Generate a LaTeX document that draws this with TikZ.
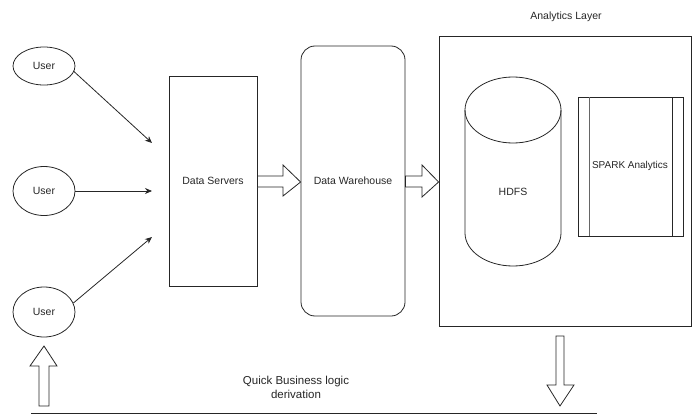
\documentclass[tikz,border=0pt]{standalone}
\usepackage{fontspec}
\setmainfont{Liberation Sans}
\usetikzlibrary{shapes.geometric,arrows.meta,calc}
\begin{document}
\begin{tikzpicture}[x=1pt,y=-1pt,
  every node/.style={font=\fontsize{10.5}{12}\selectfont, text=black!85},
  ln/.style={line width=0.8pt, draw=black!85},
  user/.style={ln, ellipse, minimum width=62pt, inner sep=0pt},
  box/.style={ln, rectangle, inner sep=0pt},
  conn/.style={ln, -{Stealth[length=7pt,width=6pt]}},
  blockarrow/.style={ln, fill=white, line join=miter}
]
\useasboundingbox (0,0) rectangle (694,415);

% users
\node[user, minimum height=38pt] (u1) at (44,66) {User};
\node[user, minimum height=49pt] (u2) at (44,191) {User};
\node[user, minimum height=50pt] (u3) at (44,312) {User};

% data servers and warehouse
\node[box, minimum width=88pt, minimum height=210pt] (ds) at (213,181) {Data Servers};
\node[box, rounded corners=14pt, minimum width=104pt, minimum height=270pt] (dw) at (353,181) {Data Warehouse};

% entry points on the data servers
\coordinate (e1) at (152,143);
\coordinate (e2) at (152,191);
\coordinate (e3) at (152,237);
\draw[conn] (u1.east) ++(-2,5) -- (e1);
\draw[conn] (u2.east) -- (e2);
\draw[conn] (u3.east) ++(-2,-9) -- (e3);

% analytics container
\node[box, minimum width=252pt, minimum height=290pt] (al) at (565,181) {};
\node (altitle) at (566,17) {Analytics Layer};

% HDFS cylinder
\draw[ln] (465,110) -- (465,233) arc[start angle=180, end angle=0, x radius=48, y radius=33]
  -- (561,110);
\draw[ln] (513,110) ellipse[x radius=48, y radius=33];
\node (hdfs) at (513,192) {HDFS};

% SPARK analytics (predefined process)
\node[box, minimum width=105pt, minimum height=139pt] (spark) at (630.5,166.5) {};
\node[font=\fontsize{10}{12}\selectfont] (sparklabel) at (630,166) {SPARK Analytics};
\draw[ln, draw=black!60] (589,97) -- (589,236);
\draw[ln] (672,97) -- (672,236);

% block arrows between stages
\draw[blockarrow] (ds.east |- 0,176) -- (283,176) -- (283,165) -- (dw.west |- 0,182) -- (283,196) -- (283,187) -- (ds.east |- 0,187) -- cycle;
\draw[blockarrow] (dw.east |- 0,176) -- (422,176) -- (422,165) -- (al.west |- 0,182) -- (422,197) -- (422,187) -- (dw.east |- 0,187) -- cycle;

% feedback loop along the bottom
\draw[blockarrow] (556,336) -- (564,336) -- (564,385) -- (574,385) -- (560,406) -- (547,385) -- (556,385) -- cycle;
\draw[blockarrow] (39,406) -- (49,406) -- (49,366) -- (57,366) -- (44,346) -- (30,366) -- (39,366) -- cycle;
\coordinate (bl) at (31,413);
\coordinate (br) at (597,413);
\draw[ln] (bl) -- (br);
\node[align=center, font=\fontsize{11.5}{14}\selectfont] (qb) at (296,387) {Quick Business logic\\derivation};
\end{tikzpicture}
\end{document}
